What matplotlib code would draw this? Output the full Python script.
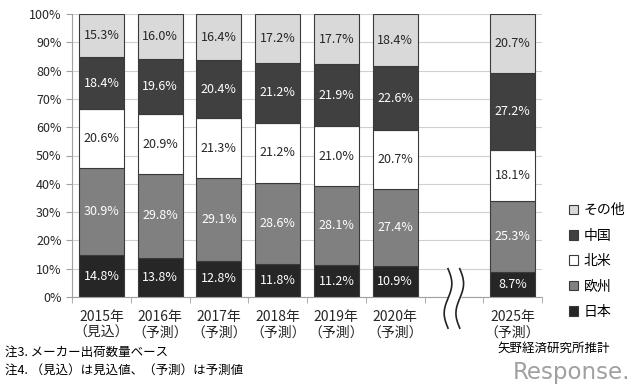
# -*- coding: utf-8 -*-
"""
Cuota por región (100% apilado), 2015-2020 y 2025
"""
import numpy as np
import matplotlib.pyplot as plt
from matplotlib.ticker import FixedLocator, MultipleLocator, FuncFormatter

plt.rcParams['font.family'] = ['Noto Sans CJK JP', 'DejaVu Sans']

# datos
years = ['2015年\n（見込）', '2016年\n（予測）', '2017年\n（予測）', '2018年\n（予測）',
         '2019年\n（予測）', '2020年\n（予測）', '2025年\n（予測）']
slots = [0, 1, 2, 3, 4, 5, 7]   # la posición 6 queda vacía (corte)
japan = [14.8, 13.8, 12.8, 11.8, 11.2, 10.9, 8.7]
europe = [30.9, 29.8, 29.1, 28.6, 28.1, 27.4, 25.3]
north_america = [20.6, 20.9, 21.3, 21.2, 21.0, 20.7, 18.1]
china = [18.4, 19.6, 20.4, 21.2, 21.9, 22.6, 27.2]
other = [15.3, 16.0, 16.4, 17.2, 17.7, 18.4, 20.7]

series = [
    ('日本', japan, '#262626', 'white'),
    ('欧州', europe, '#808080', 'white'),
    ('北米', north_america, 'white', '#262626'),
    ('中国', china, '#404040', 'white'),
    ('その他', other, '#d9d9d9', '#262626'),
]

fig = plt.figure(figsize=(6.4, 3.92), dpi=100)
ax = fig.add_axes([72 / 640, 1 - 297 / 392, 470 / 640, 283 / 392])

bottom = np.zeros(len(slots))
handles = []
names = []
for name, vals, fc, tc in series:
    vals = np.array(vals)
    bars = ax.bar(slots, vals, width=0.77, bottom=bottom, color=fc,
                  edgecolor='#3a3a3a', linewidth=0.8, zorder=2)
    ax.bar_label(bars, labels=[f'{v:.1f}%' for v in vals], label_type='center',
                 color=tc, fontsize=9)
    bottom += vals
    handles.append(bars)
    names.append(name)

# ejes
ax.set_xlim(-0.5, 7.5)
ax.set_ylim(0, 100)
ax.yaxis.set_major_locator(MultipleLocator(10))
ax.yaxis.set_major_formatter(FuncFormatter(lambda v, p: f'{int(v)}%'))
ax.set_xticks(slots)
ax.set_xticklabels(years)
for lab in ax.get_xticklabels():
    lab.set_linespacing(1.2)
ax.xaxis.set_minor_locator(FixedLocator(np.arange(-0.5, 8, 1)))
ax.tick_params(axis='x', which='major', length=0, pad=9, labelsize=10, labelcolor='#262626')
ax.tick_params(axis='x', which='minor', length=4, color='#a0a0a0')
ax.tick_params(axis='y', length=4, color='#a0a0a0', labelsize=9, labelcolor='#262626')
ax.grid(axis='y', color='#d0d0d0', linewidth=0.8)
ax.set_axisbelow(True)
for s in ('top', 'right'):
    ax.spines[s].set_visible(False)
for s in ('left', 'bottom'):
    ax.spines[s].set_color('#a0a0a0')

# marca de corte entre 2020 y 2025
t = np.linspace(0, 1, 80)
yy = 10 - t * 21
wave = 0.065 * np.sin(2 * np.pi * t)
ax.fill_betweenx(yy, 5.9 + wave, 6.1 + wave, color='white', zorder=5, clip_on=False)
for dx in (-0.1, 0.1):
    ax.plot(6 + dx + wave, yy, color='#222222', linewidth=1.2, zorder=6, clip_on=False)

# leyenda
fig.legend(handles[::-1], names[::-1], loc='center left',
           bbox_to_anchor=(556 / 640, 1 - 261 / 392), frameon=False, fontsize=10,
           handlelength=0.7, handleheight=0.7, handletextpad=0.4, labelspacing=0.82)

# notas
fig.text(5 / 640, 1 - 352 / 392, '注3. メーカー出荷数量ベース', fontsize=9, va='center')
fig.text(5 / 640, 1 - 370 / 392, '注4. （見込）は見込値、（予測）は予測値', fontsize=9, va='center')
fig.text(497 / 640, 1 - 348 / 392, '矢野経済研究所推計', fontsize=9, va='center')
fig.text(513 / 640, 1 - 373 / 392, 'Response.', fontsize=16.5, color='#a0a0a0', va='center',
         family='DejaVu Sans')

fig.savefig('out.png', dpi=100)
